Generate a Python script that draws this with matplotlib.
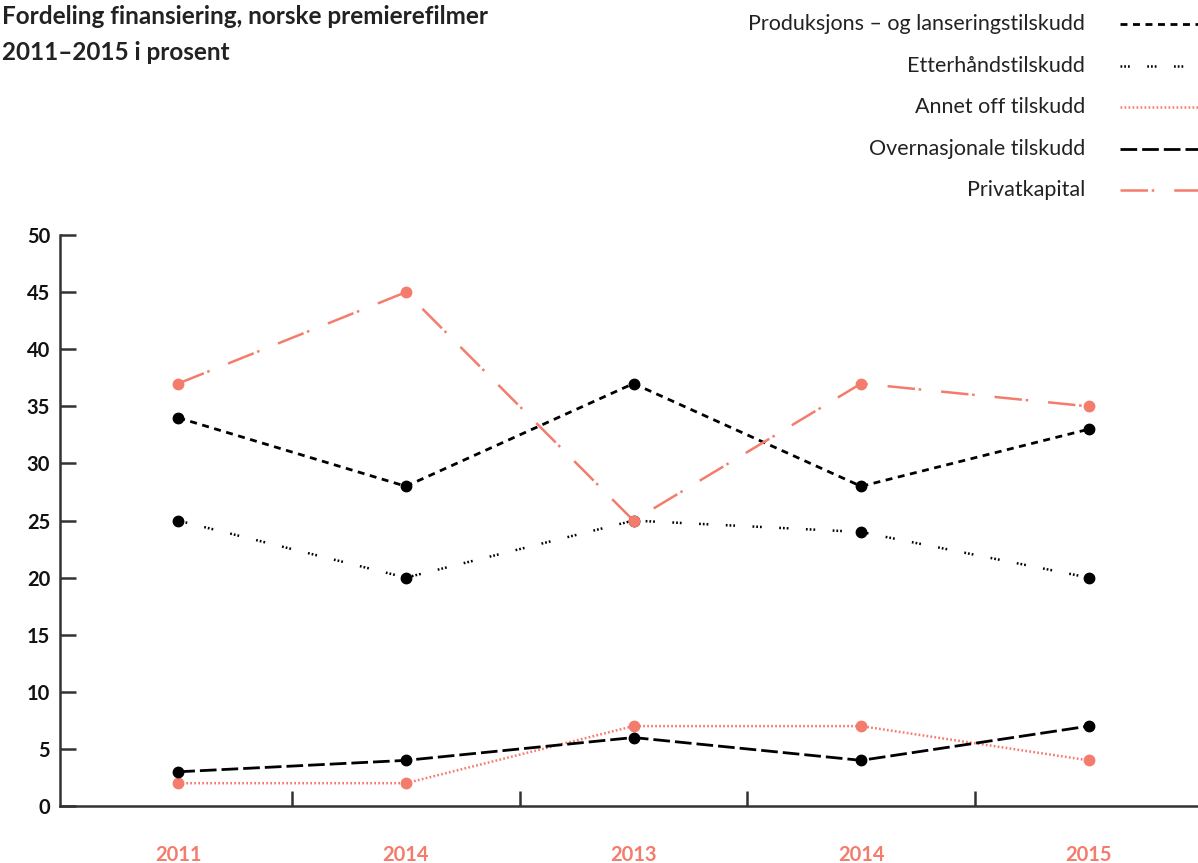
import matplotlib
matplotlib.use("Agg")
import matplotlib.pyplot as plt
from matplotlib.lines import Line2D

plt.rcParams['font.family'] = ['Lato', 'DejaVu Sans']

# data
years = ['2011', '2014', '2013', '2014', '2015']
produksjon = [34, 28, 37, 28, 33]
etterhand = [25, 20, 25, 24, 20]
annet_off = [2, 2, 7, 7, 4]
overnasjonal = [3, 4, 6, 4, 7]
privatkapital = [37, 45, 25, 37, 35]

labels = ['Produksjons – og lanseringstilskudd', 'Etterhåndstilskudd',
          'Annet off tilskudd', 'Overnasjonale tilskudd', 'Privatkapital']

SALMON = '#F47C6C'
BLACK = '#000000'

styles = [
    dict(color=BLACK, lw=2.0, dashes=(2.5, 2.0)),
    dict(color=BLACK, lw=1.8, dashes=(0.7, 0.8, 0.7, 0.8, 0.7, 7)),
    dict(color=SALMON, lw=1.8, dashes=(0.7, 0.9)),
    dict(color=BLACK, lw=2.0, dashes=(6, 1.8)),
    dict(color=SALMON, lw=1.8, dashes=(11, 1.5, 1, 8)),
]
series = [produksjon, etterhand, annet_off, overnasjonal, privatkapital]

fig = plt.figure(figsize=(11.98, 8.63), dpi=100)
ax = fig.add_axes([0.050, 0.066, 0.95, 0.6616])

x = list(range(len(years)))
for vals, st in zip(series, styles):
    ax.plot(x, vals, linestyle='--', dashes=st['dashes'], color=st['color'],
            lw=st['lw'], marker='o', ms=7.5, mfc=st['color'], mec=st['color'])

ax.set_xlim(-0.52, 4.48)
ax.set_ylim(0, 50)
ax.set_yticks(range(0, 51, 5))
for lab in ax.get_yticklabels():
    lab.set_fontweight('bold')
    lab.set_fontsize(14.5)
    lab.set_color('#111111')
ax.tick_params(axis='y', direction='in', length=11.5, width=1.8, color='#333333', pad=7)

ax.set_xticks(x)
ax.set_xticklabels(years, color=SALMON, fontweight='bold', fontsize=14.5)
ax.set_xticks([0.5, 1.5, 2.5, 3.5], minor=True)
ax.tick_params(axis='x', which='major', length=0, pad=28)
ax.tick_params(axis='x', which='minor', direction='in', length=11, width=1.8, color='#333333')

for s in ['top', 'right']:
    ax.spines[s].set_visible(False)
for s in ['left', 'bottom']:
    ax.spines[s].set_linewidth(1.8)
    ax.spines[s].set_color('#333333')

# title
fig.text(0.002, 0.981, 'Fordeling finansiering, norske premierefilmer',
         fontsize=17.5, fontweight='bold', color='#222222', va='center', ha='left')
fig.text(0.002, 0.939, '2011–2015 i prosent',
         fontsize=17.5, fontweight='bold', color='#222222', va='center', ha='left')

# legend, drawn by hand at the top right
rows_y = [24, 66, 107, 149, 190]
H = 863.0
W = 1198.0
for lab, st, ry in zip(labels, styles, rows_y):
    yf = 1 - ry / H
    fig.text(1085 / W, yf, lab, fontsize=15.5, color='#222222', ha='right', va='center')
    ln = Line2D([1120 / W, 1.0], [yf, yf], transform=fig.transFigure,
                color=st['color'], lw=st['lw'], linestyle='--', dashes=st['dashes'])
    fig.add_artist(ln)

fig.savefig('out.png', dpi=100)
